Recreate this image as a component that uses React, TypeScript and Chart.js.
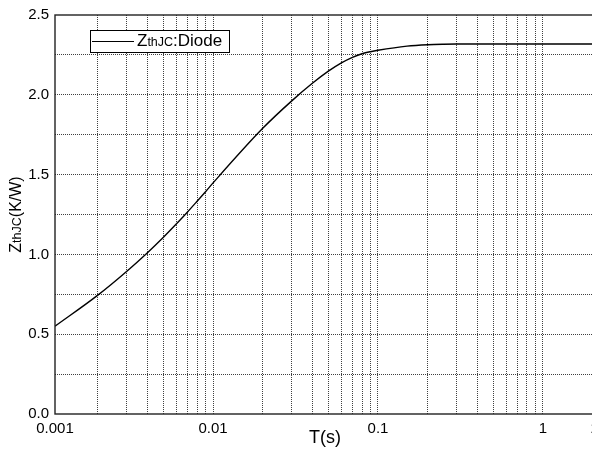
import { useEffect, useRef } from 'react';
import { Chart, registerables } from 'chart.js';

Chart.register(...registerables);

// ---- data ----
const X_MIN = 0.0011;
const X_MAX = 2.07;

const T_VALUES = [
  0.0011, 0.002, 0.003, 0.004, 0.005, 0.006, 0.007, 0.008, 0.009, 0.01,
  0.02, 0.03, 0.04, 0.05, 0.06, 0.07, 0.08, 0.09, 0.1, 0.15, 0.2, 0.25,
  0.3, 0.5, 1, 2.07,
];
const ZTH_VALUES = [
  0.55, 0.745, 0.895, 1.011, 1.108, 1.192, 1.266, 1.333, 1.393, 1.448,
  1.79, 1.962, 2.072, 2.148, 2.2, 2.235, 2.257, 2.27, 2.279, 2.305, 2.314, 2.317,
  2.318, 2.318, 2.318, 2.318,
];

const X_GRID_VALUES = [
  0.002, 0.003, 0.004, 0.005, 0.006, 0.007, 0.008, 0.009, 0.01,
  0.02, 0.03, 0.04, 0.05, 0.06, 0.07, 0.08, 0.09, 0.1,
  0.2, 0.3, 0.4, 0.5, 0.6, 0.7, 0.8, 0.9, 1,
];
const X_LABEL_VALUES = [X_MIN, 0.01, 0.1, 1, X_MAX];
const X_LABEL_TEXTS = ['0.001', '0.01', '0.1', '1', '2'];

const Y_GRID_VALUES = [0, 0.25, 0.5, 0.75, 1, 1.25, 1.5, 1.75, 2, 2.25, 2.5];
const Y_LABEL_VALUES = [0, 0.5, 1, 1.5, 2, 2.5];
const Y_LABEL_TEXTS = ['0.0', '0.5', '1.0', '1.5', '2.0', '2.5'];

const SERIES_NAME = ['Z', 'thJC', ':Diode'];
const Y_TITLE = ['Z', 'thJC', '(K/W)'];
const X_TITLE = 'T(s)';

const FONT = "'Liberation Sans', Arial, sans-serif";
const GRID_COLOR = 'rgba(0,0,0,0.75)';

function near(a: number, b: number) {
  return Math.abs(a - b) <= Math.abs(b) * 1e-6 + 1e-9;
}

function drawSubText(
  ctx: CanvasRenderingContext2D,
  parts: string[],
  x: number,
  y: number,
  mainSize: number,
  subSize: number,
  center: boolean
) {
  const fonts = [`${mainSize}px ${FONT}`, `${subSize}px ${FONT}`, `${mainSize}px ${FONT}`];
  const widths = parts.map((p, i) => {
    ctx.font = fonts[i];
    return ctx.measureText(p).width;
  });
  const total = widths.reduce((a, b) => a + b, 0);
  let cx = center ? x - total / 2 : x;
  ctx.textAlign = 'left';
  ctx.textBaseline = 'alphabetic';
  parts.forEach((p, i) => {
    ctx.font = fonts[i];
    ctx.fillText(p, cx, y);
    cx += widths[i];
  });
}

const decorPlugin = {
  id: 'decor',
  afterDraw(chart: any) {
    const ctx: CanvasRenderingContext2D = chart.ctx;
    const { left, right, top, bottom } = chart.chartArea;
    ctx.save();
    // frame
    ctx.strokeStyle = '#222';
    ctx.lineWidth = 1.4;
    ctx.strokeRect(left, top, right - left, bottom - top);

    // legend
    const lx = left + 35;
    const ly = top + 15;
    ctx.fillStyle = '#fff';
    ctx.fillRect(lx, ly, 139, 22);
    ctx.strokeStyle = '#000';
    ctx.lineWidth = 1;
    ctx.strokeRect(lx + 0.5, ly + 0.5, 139, 22);
    ctx.beginPath();
    ctx.moveTo(lx + 2, ly + 11.5);
    ctx.lineTo(lx + 44, ly + 11.5);
    ctx.stroke();
    ctx.fillStyle = '#000';
    drawSubText(ctx, SERIES_NAME, lx + 47, ly + 16, 17, 12.5, false);

    // y title
    ctx.save();
    ctx.translate(21, (top + bottom) / 2);
    ctx.rotate(-Math.PI / 2);
    drawSubText(ctx, Y_TITLE, 0, 0, 16, 12.5, true);
    ctx.restore();

    // x title
    ctx.font = `18px ${FONT}`;
    ctx.textAlign = 'center';
    ctx.textBaseline = 'alphabetic';
    ctx.fillText(X_TITLE, (left + right) / 2, 443);
    ctx.restore();
  },
};

export default function App() {
  const ref = useRef<HTMLCanvasElement | null>(null);

  useEffect(() => {
    if (!ref.current) return;
    const chart = new Chart(ref.current, {
      type: 'line',
      data: {
        datasets: [
          {
            label: 'ZthJC:Diode',
            data: T_VALUES.map((t, i) => ({ x: t, y: ZTH_VALUES[i] })),
            borderColor: '#000',
            borderWidth: 1.4,
            pointRadius: 0,
            fill: false,
            cubicInterpolationMode: 'monotone',
          },
        ],
      },
      options: {
        animation: false,
        responsive: true,
        maintainAspectRatio: false,
        layout: { padding: { top: 15, right: 25, left: 0, bottom: 0 } },
        plugins: {
          legend: { display: false },
          tooltip: { enabled: false },
        },
        scales: {
          x: {
            type: 'logarithmic',
            min: X_MIN,
            max: X_MAX,
            afterBuildTicks: (scale: any) => {
              scale.ticks = [X_MIN, ...X_GRID_VALUES, X_MAX].map((v) => ({ value: v }));
            },
            afterFit: (scale: any) => {
              scale.height = 40;
            },
            ticks: {
              autoSkip: false,
              maxRotation: 0,
              padding: 6,
              color: '#000',
              font: { family: FONT, size: 15 },
              callback: (value: any) => {
                const v = Number(value);
                const i = X_LABEL_VALUES.findIndex((lv) => near(v, lv));
                return i >= 0 ? X_LABEL_TEXTS[i] : '';
              },
            },
            grid: {
              drawTicks: false,
              lineWidth: 1,
              color: (c: any) =>
                c.tick && (near(c.tick.value, X_MIN) || near(c.tick.value, X_MAX))
                  ? 'rgba(0,0,0,0)'
                  : GRID_COLOR,
            },
            border: { display: false, dash: [1, 1] },
          },
          y: {
            type: 'linear',
            min: 0,
            max: 2.5,
            afterBuildTicks: (scale: any) => {
              scale.ticks = Y_GRID_VALUES.map((v) => ({ value: v }));
            },
            afterFit: (scale: any) => {
              scale.width = 55;
            },
            ticks: {
              autoSkip: false,
              padding: 6,
              color: '#000',
              font: { family: FONT, size: 15 },
              callback: (value: any) => {
                const v = Number(value);
                const i = Y_LABEL_VALUES.findIndex((lv) => near(v, lv));
                return i >= 0 ? Y_LABEL_TEXTS[i] : '';
              },
            },
            grid: {
              drawTicks: false,
              lineWidth: 1,
              color: (c: any) =>
                c.tick && (c.tick.value === 0 || c.tick.value === 2.5)
                  ? 'rgba(0,0,0,0)'
                  : GRID_COLOR,
            },
            border: { display: false, dash: [1, 1] },
          },
        },
      } as any,
      plugins: [decorPlugin],
    });
    return () => chart.destroy();
  }, []);

  return (
    <div
      style={{
        position: 'absolute',
        left: 0,
        top: 0,
        width: 592,
        height: 454,
        overflow: 'hidden',
        background: '#fff',
      }}
    >
      <div style={{ position: 'relative', width: 620, height: 454 }}>
        <canvas ref={ref} />
      </div>
    </div>
  );
}
